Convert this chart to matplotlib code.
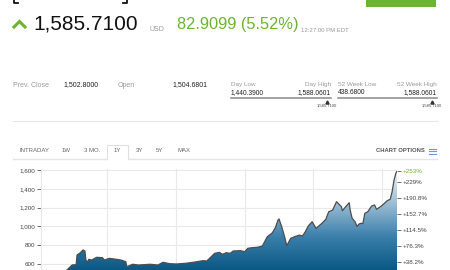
import matplotlib
matplotlib.use("Agg")
import matplotlib.pyplot as plt
import numpy as np
from matplotlib.lines import Line2D
from matplotlib.patches import Polygon, Rectangle
from matplotlib.colors import LinearSegmentedColormap

plt.rcParams['font.family'] = ['Liberation Sans', 'DejaVu Sans']

W, H = 450, 270
GREEN = '#6cb52d'
GREY = '#9a9a9a'

# --- quote header ---
price = "1,585.7100"
currency = "USD"
change = "82.9099 (5.52%)"
quote_time = "12:27:00 PM EDT"

prev_close = ("Prev. Close", "1,502.8000")
open_price = ("Open", "1,504.6801")
day_range = ("Day Low", "1,440.3900", "Day High", "1,588.0601")
week_range = ("52 Week Low", "438.6800", "52 Week High", "1,588.0601")
last_label = "1,585.7100"

tabs = ["INTRADAY", "1W", "3 MO.", "1Y", "3Y", "5Y", "MAX"]
selected_tab = "1Y"

# --- 1Y price series (day of year, close) ---
days = [0, 9, 19, 26, 29, 32, 36, 37, 40, 43, 45, 46, 48, 49, 52, 57, 63, 65,
        70, 75, 82, 87, 88, 94, 100, 112, 120, 125, 132, 139, 148, 156, 166,
        170, 178, 183, 186, 190, 194, 197, 204, 209, 212, 216, 222, 227, 232,
        237, 240, 243, 244, 247, 250, 252, 256, 260, 265, 268, 271, 274, 278,
        282, 284, 288, 292, 295, 299, 303, 308, 309, 313, 316, 317, 319, 322,
        324, 326, 328, 330, 332, 335, 339, 342, 344, 348, 351, 355, 358, 360,
        362, 364, 365]
closes = [449.2, 470, 505, 530, 560, 590, 592, 696, 717, 749, 740, 642, 621,
          650, 642, 671, 667, 642, 660, 653, 642, 624, 571, 597, 589, 597, 589,
          618, 603, 600, 607, 618, 635, 632, 713, 724, 703, 720, 713, 738, 742,
          731, 767, 773, 778, 792, 890, 930, 979, 1068, 1080, 990, 880, 795,
          873, 890, 908, 897, 943, 1004, 1050, 979, 997, 1033, 1075, 1156, 1174,
          1263, 1210, 1167, 1217, 1252, 1174, 1086, 1050, 1000, 1025, 1033,
          1030, 1139, 1156, 1217, 1228, 1182, 1210, 1235, 1274, 1288, 1369,
          1494, 1571, 1585.71]
grid_days = [68, 138, 209, 279, 350]
price_ticks = [600, 800, 1000, 1200, 1400, 1600]
pct_ticks = [38.2, 76.3, 114.5, 152.7, 190.8, 229, 253]
pct_labels = ["+38.2%", "+76.3%", "+114.5%", "+152.7%", "+190.8%", "+229%", "+253%"]


def px(x, y):
    return x / W, 1 - y / H


def txt(x, y, s, size, color='#222', ha='left', **kw):
    fig.text(*px(x, y), s, fontsize=size, color=color, ha=ha, va='center', **kw)


def poly_line(xs, ys, color, lw, **kw):
    fig.add_artist(Line2D([x / W for x in xs], [1 - y / H for y in ys],
                          color=color, lw=lw, **kw))


def hline(x0, x1, y, color, lw):
    poly_line([x0, x1], [y, y], color, lw)


fig = plt.figure(figsize=(4.5, 2.7), dpi=100)

# bottoms of the cut-off title brackets and button at the very top
poly_line([14, 14, 18], [-1, 3, 3], '#111', 1.3)
poly_line([123, 127, 127], [3, 3, -1], '#111', 1.3)
fig.add_artist(Rectangle(px(366, 7), 70 / W, 7 / H, color=GREEN, lw=0))

# price line
poly_line([14, 19.5, 25], [27, 21.5, 27], GREEN, 2.2, solid_joinstyle='miter')
txt(33, 24.5, price, 15.0, '#111')
txt(150, 29.5, currency, 5, GREY)
txt(177, 25, change, 11.8, GREEN)
txt(301, 30.5, quote_time, 4.3, GREY)

# stats row
txt(13, 85, prev_close[0], 5, GREY)
txt(63, 85, prev_close[1], 5, '#222')
txt(118, 85, open_price[0], 5, GREY)
txt(172, 85, open_price[1], 5, '#222')

for (lo_lab, lo_val, hi_lab, hi_val), x0, x1, mk in [(day_range, 231, 331, 327),
                                                      (week_range, 338, 437, 432)]:
    txt(x0, 84.5, lo_lab, 4.6, GREY)
    txt(x1, 84.5, hi_lab, 4.6, GREY, ha='right')
    txt(x0, 92.5, lo_val, 4.8, '#222')
    txt(x1, 92.5, hi_val, 4.8, '#222', ha='right')
    hline(x0, x1, 98, '#8a8a8a', 1.1)
    fig.add_artist(Line2D([mk / W], [1 - 101.5 / H], marker='^', ms=2.2, color='#333', lw=0))
    txt(mk, 105.5, last_label, 3.0, '#444', ha='center')

hline(13, 437, 121, '#e6e6e6', 0.8)

# tabs
tab_x = [20, 62, 84, 114, 136, 156, 177]
for t, x in zip(tabs, tab_x):
    txt(x, 151, t, 4.3, '#666')
hline(13, 107, 159, '#e4e4e4', 1.0)
hline(128, 437, 159, '#e4e4e4', 1.0)
poly_line([107, 107, 128, 128], [159, 145, 145, 159], '#e0e0e0', 0.8)
txt(425, 151, "CHART OPTIONS", 4.2, '#555', ha='right', fontweight='bold')
for yy in (148.5, 151, 153.5):
    hline(429, 436, yy, '#6a9bd8', 0.8)

# chart
ax = fig.add_axes([41 / W, 0, 356 / W, 101 / H])
ymin, ymax = 536, 1611
ax.set_xlim(0, 365)
ax.set_ylim(ymin, ymax)

cmap = LinearSegmentedColormap.from_list('blu', ['#0a5885', '#3b7fab', '#9bbdd4', '#eef4f8'])
grad = np.linspace(0, 1, 256).reshape(-1, 1)
img = ax.imshow(grad, extent=[0, 365, ymin, 1600], origin='lower', aspect='auto',
                cmap=cmap, zorder=2)
verts = list(zip(days, closes)) + [(days[-1], 0), (days[0], 0)]
poly = Polygon(verts, closed=True, facecolor='none', edgecolor='none', transform=ax.transData)
ax.add_patch(poly)
img.set_clip_path(poly)
ax.plot(days, closes, color='#4d4d4d', lw=0.9, zorder=3)

ax.set_xticks(grid_days)
ax.set_yticks(price_ticks)
ax.set_yticklabels([f"{v:,}" for v in price_ticks])
ax.tick_params(axis='x', length=0, labelbottom=False)
ax.tick_params(axis='y', length=3.2, width=0.6, color='#555', labelsize=4.5,
               labelcolor='#444', pad=1)
ax.grid(color='#e9e9e9', lw=0.8)
ax.set_axisbelow(True)
for s in ['top', 'right', 'bottom']:
    ax.spines[s].set_visible(False)
ax.spines['left'].set_color('#e9e9e9')

base = closes[0]
ax2 = ax.twinx()
ax2.set_ylim((ymin / base - 1) * 100, (ymax / base - 1) * 100)
ax2.set_yticks(pct_ticks)
ax2.set_yticklabels(pct_labels)
ax2.tick_params(axis='y', length=3.2, width=0.6, color='#555', labelsize=4.5,
                labelcolor='#444', pad=1)
ax2.get_yticklabels()[-1].set_color(GREEN)
for s in ax2.spines.values():
    s.set_visible(False)

fig.savefig('out.png', dpi=100)
